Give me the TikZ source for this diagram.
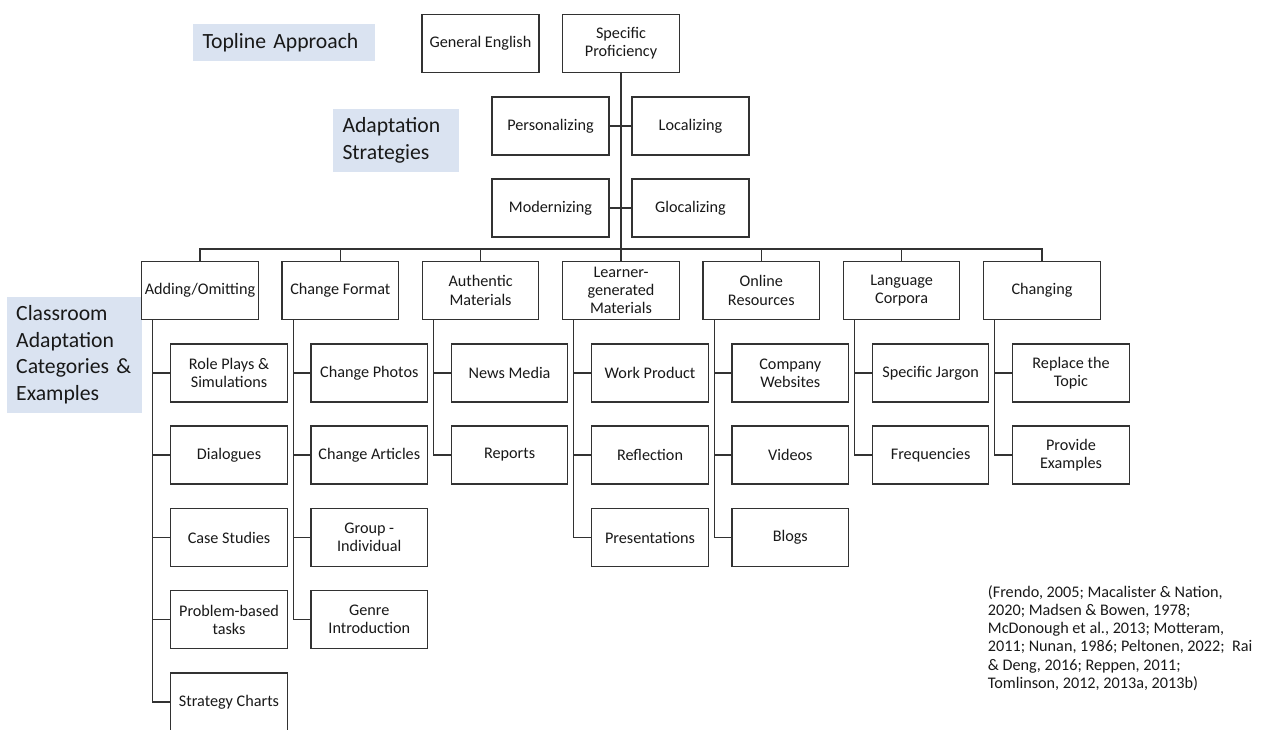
\documentclass[tikz,border=0pt]{standalone}
\usepackage{fontspec}
\setmainfont{Carlito}
\usepackage{tikz}

\definecolor{tagblue}{RGB}{218,227,241}
\definecolor{linegray}{RGB}{50,50,50}

\tikzset{
  cbox/.style={draw=linegray, line width=1.2pt, fill=white, minimum width=116.5pt,
    minimum height=58pt, inner sep=0.5pt, align=center,
    font=\fontsize{16.2}{18.3}\selectfont, text=black!90},
  tag/.style={fill=tagblue, inner xsep=9.5pt, inner ysep=0pt, align=left,
    font=\fontsize{21.7}{26.5}\selectfont, text=black!90},
  link/.style={draw=linegray, line width=1.2pt}
}

\begin{document}
\begin{tikzpicture}[x=1pt, y=-1pt]

\useasboundingbox (0,0) rectangle (1261,729);

% side labels
\node[tag, text width=163pt, minimum height=37pt] (topline) at (284, 42.5) {Topline Approach};
\node[tag, text width=107pt, minimum height=63pt] (strat) at (396, 140.5) {Adaptation\\Strategies};
\node[tag, text width=116pt, minimum height=116pt] (class) at (74.2, 354.7) {Classroom\\Adaptation\\Categories \&\\Examples};

% top level
\node[cbox, minimum width=117pt] (gen) at (480.5, 43.3) {General English};
\node[cbox, minimum width=117pt] (spec) at (621, 43.3) {Specific\\Proficiency};

% strategies
\node[cbox, minimum width=117pt] (pers) at (550.5, 126) {Personalizing};
\node[cbox, minimum width=117pt] (loc) at (690.5, 126) {Localizing};
\node[cbox, minimum width=117pt] (mod) at (550.5, 208) {Modernizing};
\node[cbox, minimum width=117pt] (gloc) at (690.5, 208) {Glocalizing};

% categories
\node[cbox] (add) at (200, 290.5) {Adding/Omitting};
\node[cbox] (fmt) at (340.3, 290.5) {Change Format};
\node[cbox] (auth) at (480.6, 290.5) {Authentic\\Materials};
\node[cbox] (learn) at (621, 290.5) {Learner-\\generated\\Materials};
\node[cbox] (online) at (761.3, 290.5) {Online\\Resources};
\node[cbox] (corp) at (901.6, 290.5) {Language\\Corpora};
\node[cbox] (chg) at (1042, 290.5) {Changing};

% examples
\node[cbox] (role) at (229, 373) {Role Plays \&\\Simulations};
\node[cbox] (dial) at (229, 455) {Dialogues};
\node[cbox] (case) at (229, 537.5) {Case Studies};
\node[cbox] (prob) at (229, 619.6) {Problem-based\\tasks};
\node[cbox] (chart) at (229, 702) {Strategy Charts};

\node[cbox] (photo) at (369.3, 373) {Change Photos};
\node[cbox] (artic) at (369.3, 455) {Change Articles};
\node[cbox] (group) at (369.3, 537.5) {Group -\\Individual};
\node[cbox] (genre) at (369.3, 619.6) {Genre\\Introduction};

\node[cbox] (news) at (509.6, 373) {News Media};
\node[cbox] (rep) at (509.6, 455) {Reports};

\node[cbox] (work) at (650, 373) {Work Product};
\node[cbox] (refl) at (650, 455) {Reflection};
\node[cbox] (pres) at (650, 537.5) {Presentations};

\node[cbox] (comp) at (790.3, 373) {Company\\Websites};
\node[cbox] (vid) at (790.3, 455) {Videos};
\node[cbox] (blog) at (790.3, 537.5) {Blogs};

\node[cbox] (jarg) at (930.6, 373) {Specific Jargon};
\node[cbox] (freq) at (930.6, 455) {Frequencies};

\node[cbox] (topic) at (1071, 373) {Replace the\\Topic};
\node[cbox] (examp) at (1071, 455) {Provide\\Examples};

% sources
\node[anchor=north west, inner sep=0pt, align=left, text=black!90,
  font=\fontsize{16.2}{18.3}\selectfont] (cite) at (987.7, 585)
  {(Frendo, 2005; Macalister \& Nation,\\2020; Madsen \& Bowen, 1978;\\McDonough et al., 2013; Motteram,\\2011; Nunan, 1986; Peltonen, 2022;\ \ Rai\\\& Deng, 2016; Reppen, 2011;\\Tomlinson, 2012, 2013a, 2013b)};

% trunk and bus
\coordinate (busL) at (200, 249);
\coordinate (busR) at (1042, 249);
\draw[link] (spec) to (learn);
\draw[link] (pers) to (loc);
\draw[link] (mod) to (gloc);
\draw[link] (add.north) to (busL) to (busR) to (chg.north);
\draw[link] (fmt.north) to (fmt.north |- busL);
\draw[link] (auth.north) to (auth.north |- busL);
\draw[link] (online.north) to (online.north |- busL);
\draw[link] (corp.north) to (corp.north |- busL);

% branches
\draw[link] ([xshift=11.7pt]add.south west) |- (chart.west);
\draw[link] ([xshift=11.7pt]add.south west |- role) to (role.west);
\draw[link] ([xshift=11.7pt]add.south west |- dial) to (dial.west);
\draw[link] ([xshift=11.7pt]add.south west |- case) to (case.west);
\draw[link] ([xshift=11.7pt]add.south west |- prob) to (prob.west);

\draw[link] ([xshift=11.7pt]fmt.south west) |- (genre.west);
\draw[link] ([xshift=11.7pt]fmt.south west |- photo) to (photo.west);
\draw[link] ([xshift=11.7pt]fmt.south west |- artic) to (artic.west);
\draw[link] ([xshift=11.7pt]fmt.south west |- group) to (group.west);

\draw[link] ([xshift=11.7pt]auth.south west) |- (rep.west);
\draw[link] ([xshift=11.7pt]auth.south west |- news) to (news.west);

\draw[link] ([xshift=11.7pt]learn.south west) |- (pres.west);
\draw[link] ([xshift=11.7pt]learn.south west |- work) to (work.west);
\draw[link] ([xshift=11.7pt]learn.south west |- refl) to (refl.west);

\draw[link] ([xshift=11.7pt]online.south west) |- (blog.west);
\draw[link] ([xshift=11.7pt]online.south west |- comp) to (comp.west);
\draw[link] ([xshift=11.7pt]online.south west |- vid) to (vid.west);

\draw[link] ([xshift=11.7pt]corp.south west) |- (freq.west);
\draw[link] ([xshift=11.7pt]corp.south west |- jarg) to (jarg.west);

\draw[link] ([xshift=11.7pt]chg.south west) |- (examp.west);
\draw[link] ([xshift=11.7pt]chg.south west |- topic) to (topic.west);

\end{tikzpicture}
\end{document}
